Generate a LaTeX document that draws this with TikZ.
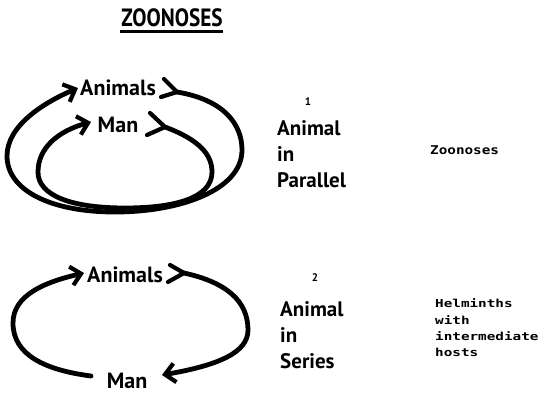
\documentclass[tikz,border=0pt]{standalone}
\usepackage{fontspec}
\setmainfont{PT Sans}
\newfontfamily\typew{DejaVu Sans Mono}
\usetikzlibrary{arrows.meta,calc}
\begin{document}
\begin{tikzpicture}[x=1pt,y=-1pt,
  loop/.style={line width=4.8pt, line cap=round, line join=round},
  feather/.style={line width=4.2pt, line cap=round, line join=round},
  tip/.style={-{Straight Barb[length=10pt,width=19pt,line width=4.2pt]}},
  lbl/.style={font=\fontsize{22}{26}\selectfont\bfseries, inner sep=0pt},
  side/.style={font=\fontsize{21}{26}\selectfont\bfseries, inner sep=0pt, align=left, anchor=west},
  num/.style={font=\fontsize{11}{13}\selectfont\bfseries, inner sep=0pt},
  note/.style={font=\typew\bfseries\fontsize{11}{16.3}\selectfont, inner sep=0pt, align=left, anchor=west}]
\useasboundingbox (0,0) rectangle (544,408);

% title
\node[inner sep=0pt] (title) at (172,18) {\fontsize{25}{30}\selectfont\bfseries\scalebox{0.85}[1]{ZOONOSES}};
\draw[line width=2.4pt] ($(title.south west)+(-1,4)$) -- ($(title.south east)+(0,4)$);

% top diagram
\node[lbl] (an1) at (118,88) {Animals};
\node[lbl] (man1) at (118,124.5) {Man};
\coordinate (o1s) at (177,92);
\coordinate (o1e) at (78,88);
\coordinate (i1s) at (165,127);
\coordinate (i1e) at (91,122);
\draw[feather] (164,79) -- (o1s) -- (161,97);
\draw[loop,tip] (o1s) .. controls (225,100) and (242,125) .. (242,150)
   .. controls (242,190) and (180,212) .. (115,212)
   .. controls (50,212) and (7,190) .. (7,156)
   .. controls (7,125) and (45,102) .. (o1e);
\draw[feather] (150,113) -- (i1s) -- (147,135);
\draw[loop,tip] (i1s) .. controls (200,140) and (212,155) .. (212,172)
   .. controls (212,198) and (175,208) .. (125,208)
   .. controls (70,208) and (38,195) .. (38,172)
   .. controls (38,148) and (58,131) .. (i1e);

% bottom diagram
\node[lbl] (an2) at (125,275) {Animals};
\node[lbl] (man2) at (127,381) {Man};
\coordinate (b1s) at (184,273);
\coordinate (b1e) at (162,375);
\coordinate (b2s) at (91,376);
\coordinate (b2e) at (84,273);
\draw[feather] (170,265) -- (b1s) -- (168,282);
\draw[loop,tip] (b1s) .. controls (225,282) and (248,300) .. (248,330)
   .. controls (248,352) and (220,365) .. (b1e);
\draw[loop,tip] (b2s) .. controls (45,370) and (13,355) .. (13,323)
   .. controls (13,295) and (45,282) .. (b2e);

% right column texts
\node[num] (n1) at (308,102) {1};
\node[side] (t1) at (277,154) {Animal\\in\\Parallel};
\node[note] (z1) at (430,150) {\scalebox{1.3}[1.1]{Zoonoses}};
\node[num] (n2) at (315,278) {2};
\node[side] (t2) at (280,335) {Animal\\in\\Series};
\node[note] (h2) at (435,328) {\scalebox{1.3}[1]{Helminths}\\\scalebox{1.3}[1]{with}\\\scalebox{1.3}[1]{intermediate}\\\scalebox{1.3}[1]{hosts}};
\end{tikzpicture}
\end{document}
